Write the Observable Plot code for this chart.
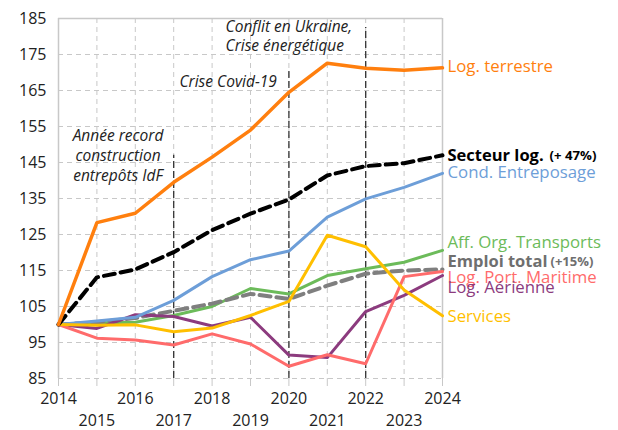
<!DOCTYPE html>
<html><head><meta charset="utf-8">
<script src="https://cdn.jsdelivr.net/npm/d3@7"></script>
<script src="https://cdn.jsdelivr.net/npm/@observablehq/plot@0.6"></script>
<style>
body{margin:0;background:#fff;}
#chart svg{font-family:"Open Sans",sans-serif;}
</style></head>
<body><div id="chart"></div>
<script>
const years = [2014,2015,2016,2017,2018,2019,2020,2021,2022,2023,2024];
const logTerrestre   = [100,128.3,130.9,139.5,146.5,154,164.5,172.6,171.2,170.6,171.3];
const secteurLog     = [100,113.1,115.3,120.1,126.2,130.8,134.7,141.4,144,144.8,147];
const condEntreposage= [100,101,102,106.7,113.3,118,120.4,129.8,134.9,138.1,142];
const affOrgTransp   = [100,100.5,100.6,102.5,105,110,108.5,113.6,115.5,117.3,120.6];
const emploiTotal    = [100,100.6,101.8,103.8,105.8,108.5,107.1,110.8,114.1,115,115.3];
const services       = [100,99.8,99.9,98,99,102.5,106.4,124.8,121.6,109.6,102.4];
const logPortMarit   = [100,96.2,95.7,94.3,97.4,94.6,88.4,91.6,89.1,113.3,114.7];
const logAerienne    = [100,98.9,102.7,102.2,99.6,102,91.5,90.8,103.6,108.1,113.6];
const yTicks = [85,95,105,115,125,135,145,155,165,175,185];
const eventYears = [2017,2020,2022];
const eventTops  = [147,170.5,182.5];

const series = [
  {name:"Aff. Org. Transports", values:affOrgTransp, color:"#6cbb5a", w:3, dash:null},
  {name:"Emploi total", values:emploiTotal, color:"#7f7f7f", w:4, dash:"11,6"},
  {name:"Log. Aérienne", values:logAerienne, color:"#8c3b7e", w:3, dash:null},
  {name:"Log. Port. Maritime", values:logPortMarit, color:"#ff6b6b", w:3, dash:null},
  {name:"Cond. Entreposage", values:condEntreposage, color:"#6d9ed8", w:3, dash:null},
  {name:"Services", values:services, color:"#ffbf00", w:3, dash:null},
  {name:"Secteur log.", values:secteurLog, color:"#000000", w:4, dash:"11,6"},
  {name:"Log. terrestre", values:logTerrestre, color:"#ff7f0e", w:3.5, dash:null}
];
const rows = s => years.map((y,i)=>({year:y, value:s.values[i]}));

const labelY = {
  "Log. terrestre":171.7, "Secteur log.":147.0, "Cond. Entreposage":142.3,
  "Aff. Org. Transports":122.7, "Emploi total":117.5, "Log. Port. Maritime":113.0,
  "Log. Aérienne":110.2, "Services":102.2
};
const labelStyle = {
  "Log. terrestre":{c:"#ff7f0e",b:false}, "Secteur log.":{c:"#000",b:true},
  "Cond. Entreposage":{c:"#6d9ed8",b:false}, "Aff. Org. Transports":{c:"#6cbb5a",b:false},
  "Emploi total":{c:"#6f6f6f",b:true}, "Log. Port. Maritime":{c:"#ff6b6b",b:false},
  "Log. Aérienne":{c:"#8c3b7e",b:false}, "Services":{c:"#ffbf00",b:false}
};
const labels = Object.keys(labelY).map(k=>({name:k, y:labelY[k]}));

const marks = [
  Plot.ruleY(yTicks.filter(v=>v!==185), {stroke:"#c8c8c8", strokeDasharray:"5,4", strokeWidth:1}),
  Plot.ruleX(years.filter(y=>y!==2014 && y!==2024), {stroke:"#c8c8c8", strokeDasharray:"5,4", strokeWidth:1}),
  Plot.ruleY([185], {stroke:"#c8c8c8", strokeWidth:1.5}),
  Plot.ruleX([2014,2024], {stroke:"#c8c8c8", strokeWidth:1.5}),
  Plot.axisY({ticks:yTicks, tickSize:0, tickPadding:12, fontSize:16, fill:"#222", label:null}),
  Plot.axisX({ticks:years.filter(y=>y%2===0), tickFormat:d=>String(d), tickSize:8, tickPadding:6, stroke:"#c8c8c8", fontSize:16, fill:"#222", label:null}),
  Plot.axisX({ticks:years.filter(y=>y%2===1), tickFormat:d=>String(d), tickSize:8, tickPadding:28, stroke:"#c8c8c8", fontSize:16, fill:"#222", label:null}),
  Plot.ruleX(eventYears.map((y,i)=>({x:y, top:eventTops[i]})), {x:"x", y1:85, y2:"top", stroke:"#333", strokeWidth:1.3, strokeDasharray:"7,3"}),
];
for (const s of series) {
  marks.push(Plot.line(rows(s), {x:"year", y:"value", stroke:s.color, strokeWidth:s.w, strokeDasharray:s.dash, strokeLinejoin:"round"}));
}
for (const l of labels) {
  const st = labelStyle[l.name];
  marks.push(Plot.text([l], {x:()=>2024, y:"y", text:"name", dx:5, textAnchor:"start", fill:st.c, fontSize:st.b?16.5:16.8, fontWeight:st.b?"bold":"normal"}));
}
marks.push(Plot.text([{t:"(+ 47%)"}], {x:()=>2024, y:()=>146.9, text:"t", dx:107, textAnchor:"start", fill:"#000", fontSize:13.2, fontWeight:"bold"}));
marks.push(Plot.text([{t:"(+15%)"}], {x:()=>2024, y:()=>117.4, text:"t", dx:108, textAnchor:"start", fill:"#6f6f6f", fontSize:13, fontWeight:"bold"}));
// annotations
marks.push(Plot.text([{t:"Année record\nconstruction\nentrepôts IdF"}], {x:()=>2015.55, y:()=>155.0, text:"t", textAnchor:"middle", lineAnchor:"top", lineHeight:1.3, fontSize:15.5, fontStyle:"italic", fill:"#222"}));
marks.push(Plot.text([{t:"Crise Covid-19"}], {x:()=>2017.15, y:()=>167.3, text:"t", textAnchor:"start", fontSize:15.5, fontStyle:"italic", fill:"#222"}));
marks.push(Plot.text([{t:"Conflit en Ukraine,\nCrise énergétique"}], {x:()=>2018.35, y:()=>185.2, text:"t", textAnchor:"start", lineAnchor:"top", lineHeight:1.25, fontSize:15.5, fontStyle:"italic", fill:"#222"}));

const chart = Plot.plot({
  width:618, height:430,
  marginLeft:58, marginRight:176, marginTop:18, marginBottom:52,
  x:{domain:[2014,2024], type:"linear"},
  y:{domain:[85,185]},
  marks
});
document.getElementById("chart").appendChild(chart);
</script></body></html>
